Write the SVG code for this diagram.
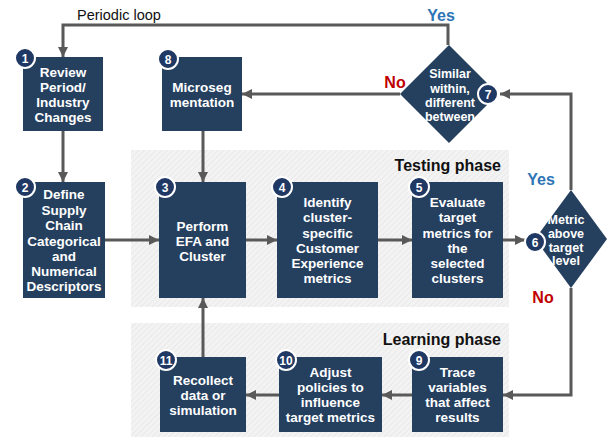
<svg xmlns="http://www.w3.org/2000/svg" width="608" height="437" viewBox="0 0 608 437">
<defs>
<pattern id="hatch" width="4" height="4" patternUnits="userSpaceOnUse" patternTransform="rotate(45)">
<rect width="4" height="4" fill="#F3F3F3"/>
<line x1="0" y1="0" x2="0" y2="4" stroke="#E6E6E6" stroke-width="1.5"/>
</pattern>
<marker id="arr" markerUnits="userSpaceOnUse" markerWidth="10" markerHeight="10" refX="10" refY="5" orient="auto">
<path d="M0,0 L10,5 L0,10 z" fill="#595959"/>
</marker>
<style>
.box{fill:#253F5F}
.dia{fill:#253F5F}
.t{font-family:"Liberation Sans",Arial,sans-serif;font-weight:bold;font-size:13.5px;fill:#FFFFFF;text-anchor:middle}
.td{font-family:"Liberation Sans",Arial,sans-serif;font-weight:bold;font-size:12.5px;fill:#FFFFFF;text-anchor:middle}
.c{fill:#1F3864;stroke:#FFFFFF;stroke-width:2}
.n{font-family:"Liberation Sans",Arial,sans-serif;font-weight:bold;font-size:12px;fill:#FFFFFF;text-anchor:middle}
.ln{fill:none;stroke:#595959;stroke-width:3}
.ph{font-family:"Liberation Sans",Arial,sans-serif;font-weight:bold;font-size:16px;fill:#111111;text-anchor:end}
.yes{font-family:"Liberation Sans",Arial,sans-serif;font-weight:bold;font-size:16px;fill:#2E75B6;text-anchor:middle}
.no{font-family:"Liberation Sans",Arial,sans-serif;font-weight:bold;font-size:16px;fill:#C00000;text-anchor:middle}
</style>
</defs>
<rect width="608" height="437" fill="#FFFFFF"/>
<g id="testing-phase">
<rect x="131" y="150" width="378" height="157" fill="url(#hatch)"/>
<text class="ph" x="501" y="171">Testing phase</text>
</g>
<g id="learning-phase">
<rect x="131" y="323" width="378" height="114" fill="url(#hatch)"/>
<text class="ph" x="501" y="345">Learning phase</text>
</g>
<g id="connectors">
<path class="ln" d="M448,45 V25 H63 V57" marker-end="url(#arr)"/>
<path class="ln" d="M63,131 V182" marker-end="url(#arr)"/>
<path class="ln" d="M203,131 V182" marker-end="url(#arr)"/>
<path class="ln" d="M400,94 H242" marker-end="url(#arr)"/>
<path class="ln" d="M105,240 H159" marker-end="url(#arr)"/>
<path class="ln" d="M246,240 H277" marker-end="url(#arr)"/>
<path class="ln" d="M378,240 H412" marker-end="url(#arr)"/>
<path class="ln" d="M503,240 H525" marker-end="url(#arr)"/>
<path class="ln" d="M571,190 V94 H500" marker-end="url(#arr)"/>
<path class="ln" d="M571,288 V395 H503" marker-end="url(#arr)"/>
<path class="ln" d="M412,395 H382" marker-end="url(#arr)"/>
<path class="ln" d="M279,395 H246" marker-end="url(#arr)"/>
<path class="ln" d="M203,357 V298" marker-end="url(#arr)"/>
<text x="77" y="20" font-family="Liberation Sans, Arial, sans-serif" font-size="14.5" fill="#111111">Periodic loop</text>
<text class="yes" x="441" y="21">Yes</text>
<text class="no" x="395" y="88">No</text>
<text class="yes" x="541" y="185">Yes</text>
<text class="no" x="543" y="303">No</text>
</g>
<g id="n1">
<rect class="box" x="23" y="57" width="80" height="74"/>
<text class="t" x="63" y="77">Review</text>
<text class="t" x="63" y="92">Period/</text>
<text class="t" x="63" y="107">Industry</text>
<text class="t" x="63" y="122">Changes</text>
<circle class="c" cx="25" cy="58" r="10"/>
<text class="n" x="25" y="62.5">1</text>
</g>
<g id="n8">
<rect class="box" x="162" y="57" width="80" height="74"/>
<text class="t" x="202" y="92">Microseg</text>
<text class="t" x="202" y="107">mentation</text>
<circle class="c" cx="168" cy="59" r="10"/>
<text class="n" x="168" y="63.5">8</text>
</g>
<g id="n7">
<path class="dia" d="M449,45 L498,94 L449,143 L400,94 z"/>
<text class="td" x="450" y="78">Similar</text>
<text class="td" x="450" y="92.5">within,</text>
<text class="td" x="450" y="107">different</text>
<text class="td" x="450" y="121">between</text>
<circle class="c" cx="488" cy="94" r="10"/>
<text class="n" x="488" y="98.5">7</text>
</g>
<g id="n2">
<rect class="box" x="23" y="182" width="82" height="116"/>
<text class="t" x="64" y="199">Define</text>
<text class="t" x="64" y="214.5">Supply</text>
<text class="t" x="64" y="230">Chain</text>
<text class="t" x="64" y="245.5">Categorical</text>
<text class="t" x="64" y="261">and</text>
<text class="t" x="64" y="276">Numerical</text>
<text class="t" x="64" y="291">Descriptors</text>
<circle class="c" cx="25" cy="187" r="10"/>
<text class="n" x="25" y="191.5">2</text>
</g>
<g id="n3">
<rect class="box" x="159" y="182" width="87" height="116"/>
<text class="t" x="202.5" y="231">Perform</text>
<text class="t" x="202.5" y="246">EFA and</text>
<text class="t" x="202.5" y="261">Cluster</text>
<circle class="c" cx="165" cy="187" r="10"/>
<text class="n" x="165" y="191.5">3</text>
</g>
<g id="n4">
<rect class="box" x="277" y="182" width="101" height="116"/>
<text class="t" x="327.5" y="207">Identify</text>
<text class="t" x="327.5" y="222">cluster-</text>
<text class="t" x="327.5" y="238">specific</text>
<text class="t" x="327.5" y="253">Customer</text>
<text class="t" x="327.5" y="268">Experience</text>
<text class="t" x="327.5" y="283">metrics</text>
<circle class="c" cx="282" cy="187" r="10"/>
<text class="n" x="282" y="191.5">4</text>
</g>
<g id="n5">
<rect class="box" x="412" y="182" width="91" height="116"/>
<text class="t" x="457.5" y="207">Evaluate</text>
<text class="t" x="457.5" y="222">target</text>
<text class="t" x="457.5" y="238">metrics for</text>
<text class="t" x="457.5" y="253">the</text>
<text class="t" x="457.5" y="268">selected</text>
<text class="t" x="457.5" y="283">clusters</text>
<circle class="c" cx="419" cy="187" r="10"/>
<text class="n" x="419" y="191.5">5</text>
</g>
<g id="n6">
<path class="dia" d="M571,190 L607,239 L571,288 L535,239 z"/>
<text class="td" x="566" y="224">Metric</text>
<text class="td" x="566" y="238">above</text>
<text class="td" x="566" y="252">target</text>
<text class="td" x="566" y="265">level</text>
<circle class="c" cx="535" cy="242" r="10"/>
<text class="n" x="535" y="246.5">6</text>
</g>
<g id="n9">
<rect class="box" x="412" y="357" width="91" height="75"/>
<text class="t" x="457.5" y="377">Trace</text>
<text class="t" x="457.5" y="392">variables</text>
<text class="t" x="457.5" y="407">that affect</text>
<text class="t" x="457.5" y="422">results</text>
<circle class="c" cx="419" cy="360" r="10"/>
<text class="n" x="419" y="364.5">9</text>
</g>
<g id="n10">
<rect class="box" x="279" y="357" width="103" height="75"/>
<text class="t" x="330.5" y="377">Adjust</text>
<text class="t" x="330.5" y="392">policies to</text>
<text class="t" x="330.5" y="407">influence</text>
<text class="t" x="330.5" y="422">target metrics</text>
<circle class="c" cx="286" cy="360" r="10"/>
<text class="n" x="286" y="364.5">10</text>
</g>
<g id="n11">
<rect class="box" x="160" y="357" width="86" height="75"/>
<text class="t" x="203" y="385">Recollect</text>
<text class="t" x="203" y="400">data or</text>
<text class="t" x="203" y="415">simulation</text>
<circle class="c" cx="166" cy="360" r="10"/>
<text class="n" x="166" y="364.5">11</text>
</g>
</svg>
